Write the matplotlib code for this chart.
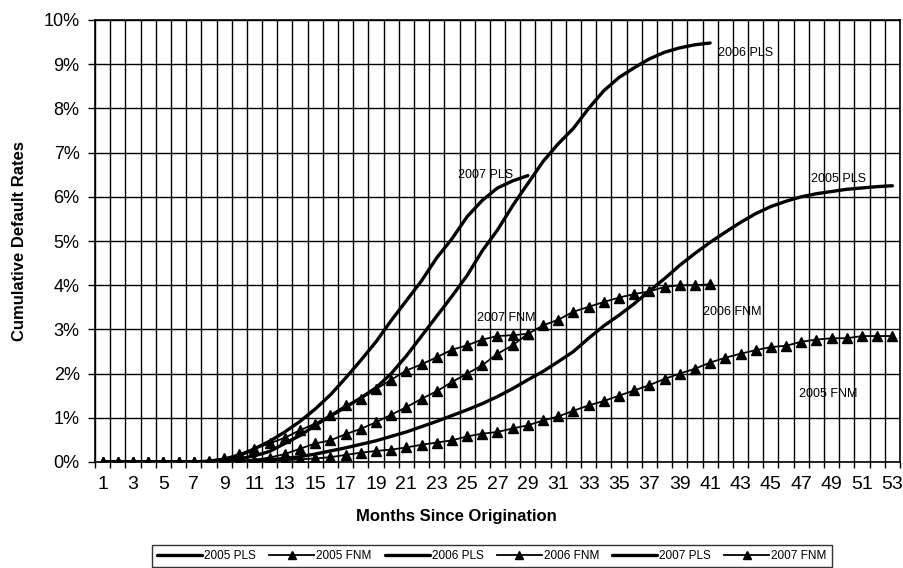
import numpy as np
import matplotlib
matplotlib.use("Agg")
import matplotlib.pyplot as plt

plt.rcParams['font.family'] = ['Liberation Sans', 'DejaVu Sans']

# ---- data (cumulative default rates, %) ----
pls_2005 = [0, 0, 0, 0, 0, 0, 0, 0, 0, 0.01, 0.03, 0.05, 0.08, 0.12, 0.18, 0.25,
            0.32, 0.40, 0.48, 0.58, 0.68, 0.80, 0.92, 1.05, 1.18, 1.32, 1.48, 1.66,
            1.86, 2.05, 2.27, 2.50, 2.80, 3.08, 3.32, 3.58, 3.87, 4.15, 4.45, 4.72,
            4.97, 5.20, 5.42, 5.62, 5.78, 5.90, 6.00, 6.07, 6.12, 6.17, 6.20, 6.23, 6.25]
fnm_2005 = [0, 0, 0, 0, 0, 0, 0, 0, 0, 0.01, 0.02, 0.03, 0.04, 0.06, 0.08, 0.11,
            0.16, 0.21, 0.25, 0.28, 0.33, 0.39, 0.44, 0.49, 0.58, 0.64, 0.68, 0.76,
            0.83, 0.94, 1.03, 1.16, 1.28, 1.38, 1.50, 1.62, 1.74, 1.88, 2.00, 2.11,
            2.25, 2.36, 2.45, 2.53, 2.60, 2.63, 2.72, 2.77, 2.80, 2.80, 2.85, 2.85, 2.85]
pls_2006 = [0, 0, 0, 0, 0, 0, 0, 0, 0.03, 0.07, 0.14, 0.24, 0.42, 0.60, 0.83, 1.04,
            1.24, 1.45, 1.68, 2.00, 2.40, 2.85, 3.30, 3.75, 4.22, 4.78, 5.25, 5.80,
            6.30, 6.80, 7.20, 7.55, 8.00, 8.40, 8.70, 8.92, 9.12, 9.27, 9.37, 9.44, 9.48]
fnm_2006 = [0, 0, 0, 0, 0, 0, 0, 0, 0, 0.02, 0.05, 0.10, 0.18, 0.30, 0.42, 0.49,
            0.63, 0.75, 0.90, 1.07, 1.24, 1.43, 1.60, 1.81, 2.00, 2.19, 2.45, 2.64,
            2.90, 3.09, 3.22, 3.40, 3.51, 3.62, 3.72, 3.80, 3.86, 3.96, 4.00, 4.00, 4.02]
pls_2007 = [0, 0, 0, 0, 0, 0, 0, 0.02, 0.06, 0.14, 0.30, 0.47, 0.68, 0.92, 1.20,
            1.52, 1.90, 2.30, 2.72, 3.20, 3.65, 4.10, 4.62, 5.05, 5.55, 5.92, 6.20,
            6.36, 6.48]
fnm_2007 = [0, 0, 0, 0, 0, 0, 0, 0.03, 0.08, 0.18, 0.30, 0.42, 0.55, 0.72, 0.87,
            1.06, 1.28, 1.43, 1.65, 1.86, 2.07, 2.21, 2.37, 2.54, 2.64, 2.77, 2.85,
            2.87, 2.90]

series_labels = ["2005 PLS", "2005 FNM", "2006 PLS", "2006 FNM", "2007 PLS", "2007 FNM"]
n_months = 53
y_ticks = list(range(0, 11))

fig = plt.figure(figsize=(9.04, 5.68), dpi=100)
ax = fig.add_axes([95 / 904, 1 - 462 / 568, 805 / 904, 442 / 568])

pls_style = dict(color='black', lw=2.4, solid_capstyle='round')
fnm_style = dict(color='black', lw=1.3, marker='^', markersize=6.5,
                 markerfacecolor='black', markeredgecolor='black')

data = [pls_2005, fnm_2005, pls_2006, fnm_2006, pls_2007, fnm_2007]
handles = []
for lab, vals in zip(series_labels, data):
    x = np.arange(1, len(vals) + 1)
    st = pls_style if 'PLS' in lab else fnm_style
    h, = ax.plot(x, vals, label=lab, zorder=3, **st)
    handles.append(h)

ax.set_xlim(0.5, n_months + 0.5)
ax.set_ylim(0, 10)

# x axis: labels on odd months, gridlines between categories
ax.set_xticks(np.arange(1, n_months + 1, 2))
ax.set_xticklabels([str(m) for m in range(1, n_months + 1, 2)], fontsize=14)
ax.set_xticks(np.arange(0.5, n_months + 1, 1), minor=True)
ax.tick_params(axis='x', which='major', length=0, pad=10)
ax.tick_params(axis='x', which='minor', length=4, width=1, direction='out', color='black')

ax.set_yticks(y_ticks)
ax.set_yticklabels([f"{v}%" for v in y_ticks], fontsize=13)
ax.tick_params(axis='y', which='major', length=5, width=1, direction='out', pad=6)

ax.grid(which='minor', axis='x', color='black', lw=1.0)
ax.grid(which='major', axis='y', color='black', lw=1.0)
ax.set_axisbelow(True)
for sp in ax.spines.values():
    sp.set_color('black')
    sp.set_linewidth(1.2)

fig.text(456 / 904, 1 - 517 / 568, "Months Since Origination", ha='center', va='center',
         fontsize=12, fontweight='bold')
fig.text(20 / 904, 1 - 241 / 568, "Cumulative Default Rates", ha='center', va='center',
         rotation=90, fontsize=12, fontweight='bold')

# series annotations
def px2data(px, py):
    return (px - 95) / 15.2 + 0.5, (461.7 - py) / 44.17

annots = [("2006 PLS", 718, 53), ("2007 PLS", 458, 175), ("2005 PLS", 812, 179),
          ("2007 FNM", 477, 318), ("2006 FNM", 703, 312), ("2005 FNM", 800, 394)]
for txt, px, py in annots:
    dx, dy = px2data(px, py)
    ax.text(dx, dy, txt, ha='left', va='center', fontsize=9, zorder=4)

leg = fig.legend(handles=handles, labels=series_labels, loc='center',
                 bbox_to_anchor=(492 / 904, 1 - 556 / 568), ncol=6, fontsize=8.5,
                 handlelength=3.8, handletextpad=0.2, columnspacing=1.1,
                 frameon=True, fancybox=False, edgecolor='black', borderpad=0.4,
                 markerscale=0.9)
leg.get_frame().set_linewidth(1.0)

fig.savefig("out.png", dpi=100)
